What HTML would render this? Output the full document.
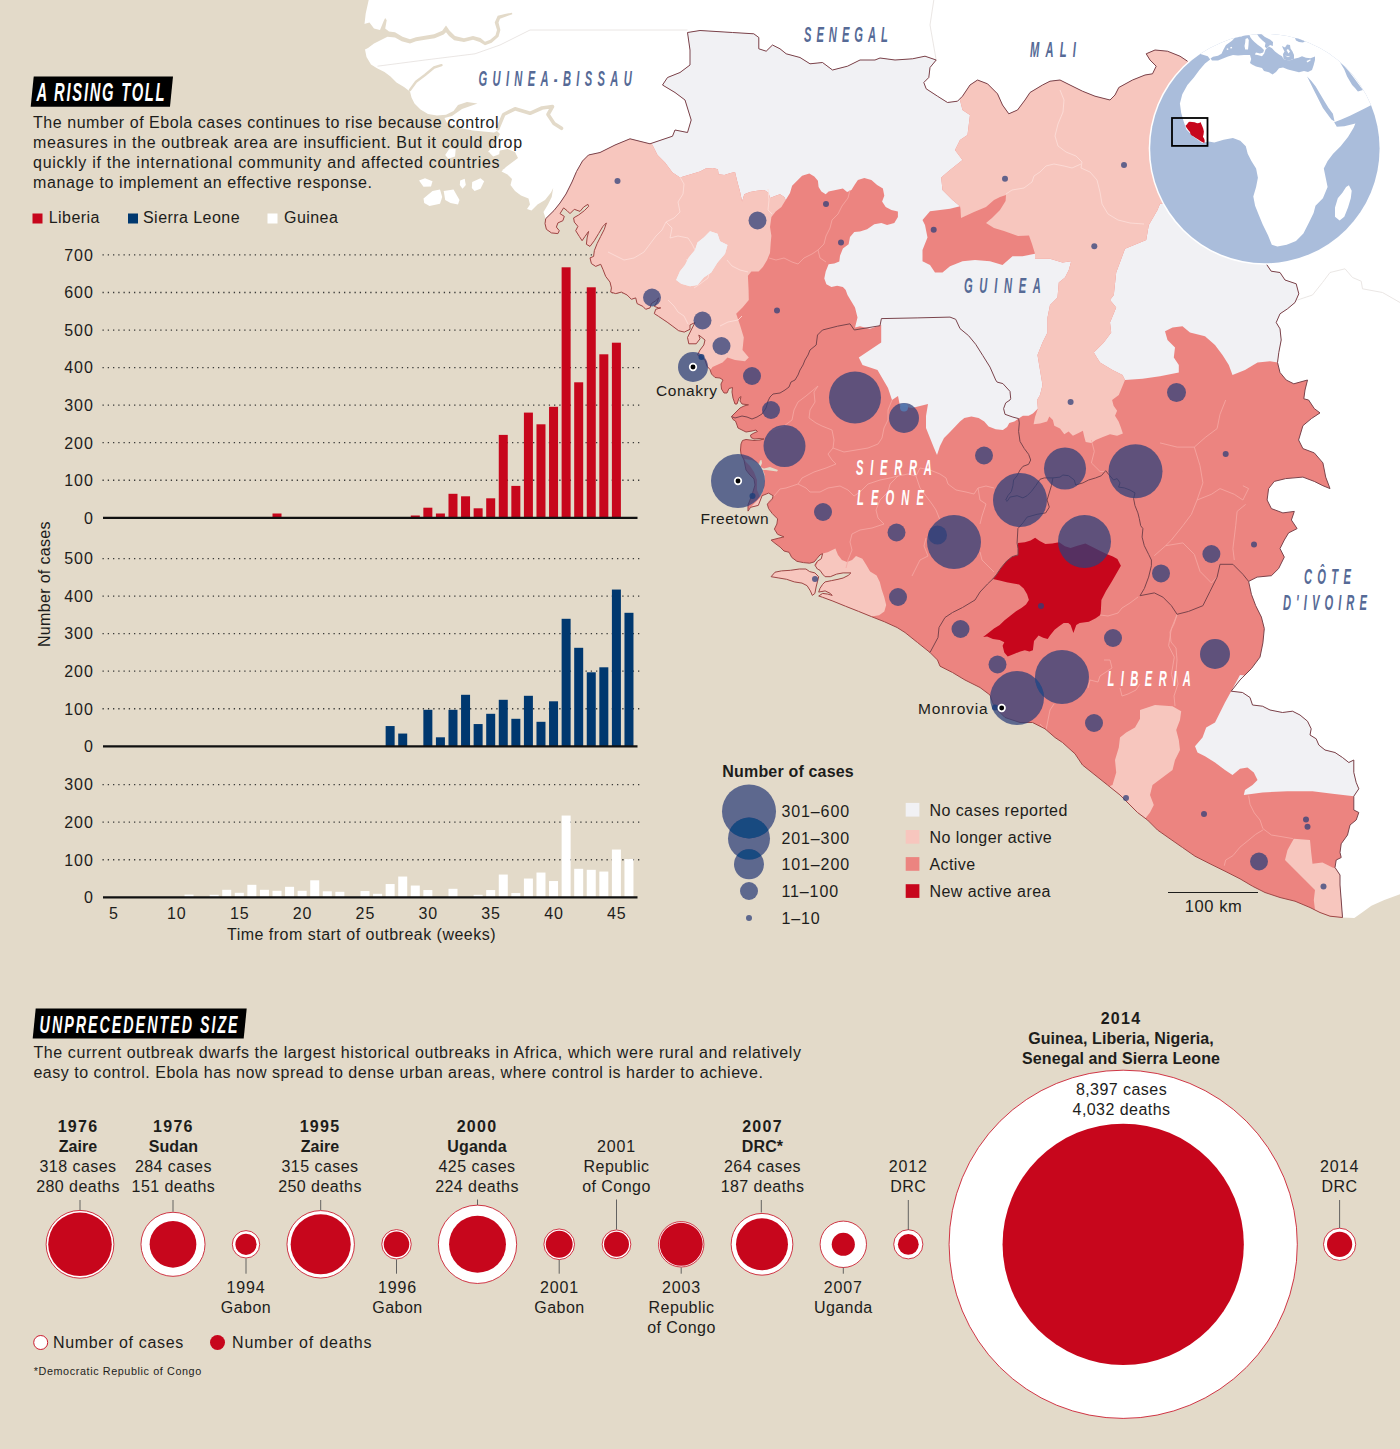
<!DOCTYPE html><html><head><meta charset="utf-8"><title>Ebola</title><style>
html,body{margin:0;padding:0;background:#e3dac9}
svg{display:block}
text{font-family:"Liberation Sans",sans-serif;fill:#1d1d1b}
.b{font-weight:bold}.m{text-anchor:middle}.e{text-anchor:end}
.t{font-size:16px;letter-spacing:.45px}
.n{font-size:16px;letter-spacing:.9px}
.cl{font-family:"Liberation Sans",sans-serif;font-style:italic;font-weight:bold;font-size:22px;fill:#566a96}
.wl{font-family:"Liberation Sans",sans-serif;font-style:italic;font-weight:bold;font-size:22px;fill:#fff}
</style></head><body>
<svg width="1400" height="1449" viewBox="0 0 1400 1449">
<rect width="1400" height="1449" fill="#e3dac9"/>
<text class="n e" x="93.7" y="523.6">0</text>
<path d="M102.5,480.25H640" stroke="#3a3a38" stroke-width="1.3" stroke-dasharray="1.3 3.95" fill="none"/>
<text class="n e" x="93.7" y="486.05">100</text>
<path d="M102.5,442.7H640" stroke="#3a3a38" stroke-width="1.3" stroke-dasharray="1.3 3.95" fill="none"/>
<text class="n e" x="93.7" y="448.5">200</text>
<path d="M102.5,405.15H640" stroke="#3a3a38" stroke-width="1.3" stroke-dasharray="1.3 3.95" fill="none"/>
<text class="n e" x="93.7" y="410.95">300</text>
<path d="M102.5,367.6H640" stroke="#3a3a38" stroke-width="1.3" stroke-dasharray="1.3 3.95" fill="none"/>
<text class="n e" x="93.7" y="373.4">400</text>
<path d="M102.5,330.05H640" stroke="#3a3a38" stroke-width="1.3" stroke-dasharray="1.3 3.95" fill="none"/>
<text class="n e" x="93.7" y="335.85">500</text>
<path d="M102.5,292.5H640" stroke="#3a3a38" stroke-width="1.3" stroke-dasharray="1.3 3.95" fill="none"/>
<text class="n e" x="93.7" y="298.3">600</text>
<path d="M102.5,254.95H640" stroke="#3a3a38" stroke-width="1.3" stroke-dasharray="1.3 3.95" fill="none"/>
<text class="n e" x="93.7" y="260.75">700</text>
<rect x="272.51" y="513.5" width="9" height="4.3" fill="#c7061c"/>
<rect x="410.78" y="515.5" width="9" height="2.3" fill="#c7061c"/>
<rect x="423.35" y="507.7" width="9" height="10.1" fill="#c7061c"/>
<rect x="435.92" y="513.5" width="9" height="4.3" fill="#c7061c"/>
<rect x="448.49" y="493.8" width="9" height="24" fill="#c7061c"/>
<rect x="461.06" y="496.3" width="9" height="21.5" fill="#c7061c"/>
<rect x="473.63" y="508.3" width="9" height="9.5" fill="#c7061c"/>
<rect x="486.2" y="498.3" width="9" height="19.5" fill="#c7061c"/>
<rect x="498.77" y="434.9" width="9" height="82.9" fill="#c7061c"/>
<rect x="511.34" y="485.9" width="9" height="31.9" fill="#c7061c"/>
<rect x="523.91" y="412.6" width="9" height="105.2" fill="#c7061c"/>
<rect x="536.48" y="424.3" width="9" height="93.5" fill="#c7061c"/>
<rect x="549.05" y="406.8" width="9" height="111" fill="#c7061c"/>
<rect x="561.62" y="267.3" width="9" height="250.5" fill="#c7061c"/>
<rect x="574.19" y="382.3" width="9" height="135.5" fill="#c7061c"/>
<rect x="586.76" y="287.3" width="9" height="230.5" fill="#c7061c"/>
<rect x="599.33" y="354.3" width="9" height="163.5" fill="#c7061c"/>
<rect x="611.9" y="342.7" width="9" height="175.1" fill="#c7061c"/>
<path d="M103,517.8H637.5" stroke="#111" stroke-width="2.2"/>
<text class="n e" x="93.7" y="752.1">0</text>
<path d="M102.5,708.75H640" stroke="#3a3a38" stroke-width="1.3" stroke-dasharray="1.3 3.95" fill="none"/>
<text class="n e" x="93.7" y="714.55">100</text>
<path d="M102.5,671.2H640" stroke="#3a3a38" stroke-width="1.3" stroke-dasharray="1.3 3.95" fill="none"/>
<text class="n e" x="93.7" y="677">200</text>
<path d="M102.5,633.65H640" stroke="#3a3a38" stroke-width="1.3" stroke-dasharray="1.3 3.95" fill="none"/>
<text class="n e" x="93.7" y="639.45">300</text>
<path d="M102.5,596.1H640" stroke="#3a3a38" stroke-width="1.3" stroke-dasharray="1.3 3.95" fill="none"/>
<text class="n e" x="93.7" y="601.9">400</text>
<path d="M102.5,558.55H640" stroke="#3a3a38" stroke-width="1.3" stroke-dasharray="1.3 3.95" fill="none"/>
<text class="n e" x="93.7" y="564.35">500</text>
<rect x="385.64" y="726.05" width="9" height="20.25" fill="#00386f"/>
<rect x="398.21" y="733.55" width="9" height="12.75" fill="#00386f"/>
<rect x="423.35" y="709.8" width="9" height="36.5" fill="#00386f"/>
<rect x="435.92" y="737.3" width="9" height="9" fill="#00386f"/>
<rect x="448.49" y="709.8" width="9" height="36.5" fill="#00386f"/>
<rect x="461.06" y="694.8" width="9" height="51.5" fill="#00386f"/>
<rect x="473.63" y="724.05" width="9" height="22.25" fill="#00386f"/>
<rect x="486.2" y="713.8" width="9" height="32.5" fill="#00386f"/>
<rect x="498.77" y="699.8" width="9" height="46.5" fill="#00386f"/>
<rect x="511.34" y="718.8" width="9" height="27.5" fill="#00386f"/>
<rect x="523.91" y="695.8" width="9" height="50.5" fill="#00386f"/>
<rect x="536.48" y="721.8" width="9" height="24.5" fill="#00386f"/>
<rect x="549.05" y="701.3" width="9" height="45" fill="#00386f"/>
<rect x="561.62" y="618.8" width="9" height="127.5" fill="#00386f"/>
<rect x="574.19" y="647.8" width="9" height="98.5" fill="#00386f"/>
<rect x="586.76" y="672.3" width="9" height="74" fill="#00386f"/>
<rect x="599.33" y="667.3" width="9" height="79" fill="#00386f"/>
<rect x="611.9" y="589.55" width="9" height="156.75" fill="#00386f"/>
<rect x="624.47" y="612.8" width="9" height="133.5" fill="#00386f"/>
<path d="M103,746.3H637.5" stroke="#111" stroke-width="2.2"/>
<text class="n e" x="93.7" y="903.1">0</text>
<path d="M102.5,859.75H640" stroke="#3a3a38" stroke-width="1.3" stroke-dasharray="1.3 3.95" fill="none"/>
<text class="n e" x="93.7" y="865.55">100</text>
<path d="M102.5,822.2H640" stroke="#3a3a38" stroke-width="1.3" stroke-dasharray="1.3 3.95" fill="none"/>
<text class="n e" x="93.7" y="828">200</text>
<path d="M102.5,784.65H640" stroke="#3a3a38" stroke-width="1.3" stroke-dasharray="1.3 3.95" fill="none"/>
<text class="n e" x="93.7" y="790.45">300</text>
<rect x="184.52" y="894.6" width="9" height="2.7" fill="#fff"/>
<rect x="209.66" y="894.8" width="9" height="2.5" fill="#fff"/>
<rect x="222.23" y="889.8" width="9" height="7.5" fill="#fff"/>
<rect x="234.8" y="892.8" width="9" height="4.5" fill="#fff"/>
<rect x="247.37" y="884.8" width="9" height="12.5" fill="#fff"/>
<rect x="259.94" y="889.8" width="9" height="7.5" fill="#fff"/>
<rect x="272.51" y="890.8" width="9" height="6.5" fill="#fff"/>
<rect x="285.08" y="886.8" width="9" height="10.5" fill="#fff"/>
<rect x="297.65" y="890.8" width="9" height="6.5" fill="#fff"/>
<rect x="310.22" y="880.3" width="9" height="17" fill="#fff"/>
<rect x="322.79" y="891.3" width="9" height="6" fill="#fff"/>
<rect x="335.36" y="891.8" width="9" height="5.5" fill="#fff"/>
<rect x="360.5" y="891.05" width="9" height="6.25" fill="#fff"/>
<rect x="373.07" y="893.8" width="9" height="3.5" fill="#fff"/>
<rect x="385.64" y="884.05" width="9" height="13.25" fill="#fff"/>
<rect x="398.21" y="876.55" width="9" height="20.75" fill="#fff"/>
<rect x="410.78" y="885.55" width="9" height="11.75" fill="#fff"/>
<rect x="423.35" y="890.05" width="9" height="7.25" fill="#fff"/>
<rect x="448.49" y="888.8" width="9" height="8.5" fill="#fff"/>
<rect x="473.63" y="894.8" width="9" height="2.5" fill="#fff"/>
<rect x="486.2" y="890.05" width="9" height="7.25" fill="#fff"/>
<rect x="498.77" y="874.55" width="9" height="22.75" fill="#fff"/>
<rect x="511.34" y="893.05" width="9" height="4.25" fill="#fff"/>
<rect x="523.91" y="878.55" width="9" height="18.75" fill="#fff"/>
<rect x="536.48" y="872.55" width="9" height="24.75" fill="#fff"/>
<rect x="549.05" y="881.05" width="9" height="16.25" fill="#fff"/>
<rect x="561.62" y="815.55" width="9" height="81.75" fill="#fff"/>
<rect x="574.19" y="868.8" width="9" height="28.5" fill="#fff"/>
<rect x="586.76" y="869.8" width="9" height="27.5" fill="#fff"/>
<rect x="599.33" y="871.55" width="9" height="25.75" fill="#fff"/>
<rect x="611.9" y="849.55" width="9" height="47.75" fill="#fff"/>
<rect x="624.47" y="859.05" width="9" height="38.25" fill="#fff"/>
<path d="M103,897.3H637.5" stroke="#111" stroke-width="2.2"/>
<text class="n m" x="114" y="918.8">5</text>
<text class="n m" x="176.85" y="918.8">10</text>
<text class="n m" x="239.7" y="918.8">15</text>
<text class="n m" x="302.55" y="918.8">20</text>
<text class="n m" x="365.4" y="918.8">25</text>
<text class="n m" x="428.25" y="918.8">30</text>
<text class="n m" x="491.1" y="918.8">35</text>
<text class="n m" x="553.95" y="918.8">40</text>
<text class="n m" x="616.8" y="918.8">45</text>
<text class="t" x="227" y="940" textLength="269">Time from start of outbreak (weeks)</text>
<text class="t" transform="translate(49.6,647) rotate(-90)" textLength="126">Number of cases</text>
<defs><clipPath id="cu"><path d="M545.7,218.7 L554,210.5 L560,203 L566,194 L572,182 L576.5,171.5 L582.5,161 L588.5,155 L600,152.5 L615,145 L630,138.8 L650,143.8 L672.5,136.2 L675,130 L687.5,132.5 L691.2,120 L685,100 L675,92.5 L662.5,85 L667.5,77.5 L680,72.5 L690,65 L690,50 L687.5,32.5 L700,30.5 L732.5,32.5 L753.8,33.8 L758.8,37.5 L758.8,48.8 L766.2,51.2 L772.5,45 L780,48.8 L786.2,53.8 L800,57.5 L810,63.8 L822.5,62.5 L832.5,70 L847.5,66.2 L860,60 L875,60 L880,58 L895,60 L912.5,58.8 L925,56.2 L936.2,60 L930,67.5 L928.8,77.5 L923.8,82.5 L926.2,88.8 L937.5,96.2 L947.5,102.5 L957.5,101.2 L962.5,96.2 L970,85 L977.5,80 L987.5,83.8 L997.5,93.8 L1002.5,105 L1008.8,113.8 L1017.5,110 L1025,100 L1030,92.5 L1042.5,85 L1050,81.2 L1060,80 L1070,85 L1082.5,91.2 L1095,96.2 L1110,100 L1115,95 L1118.8,87.5 L1132.5,80 L1145,75 L1152.5,73.8 L1156.2,66.2 L1150,60 L1146.2,53.8 L1155,50 L1167.5,51.2 L1180,56.2 L1187.5,61.2 L1215,90 L1250,180 L1262,240 L1266.2,263.8 L1271.2,271.2 L1280,272.5 L1285,280 L1296.2,283.8 L1298.8,293.8 L1295,302.5 L1287.5,308.8 L1280,313.8 L1276.2,322.5 L1280,328.8 L1281.2,340 L1278.8,352.5 L1277.5,362.5 L1280,372.5 L1286.2,380 L1293.8,383.8 L1307.5,380 L1305,390 L1303.8,398.8 L1308.6,400 L1314.3,408.6 L1320,412.9 L1311.4,418.6 L1302.9,425.7 L1298.6,440 L1302.9,448.6 L1314.3,452.9 L1322.9,462.9 L1325.7,477.1 L1330,488.6 L1322.9,485.7 L1314.3,481.4 L1302.9,477.1 L1285.7,478.6 L1274.3,481.4 L1268.6,488.6 L1267.1,500 L1271.4,508.6 L1282.9,512.9 L1294.3,511.4 L1291.4,520 L1297.1,528.6 L1288.6,532.9 L1284.3,540 L1280,548.6 L1284.3,557.1 L1278.6,568.6 L1271.4,575.7 L1257.1,577.1 L1248.6,581.4 L1251.4,594.3 L1255.7,605.7 L1261.4,617.1 L1264.3,628.6 L1262.9,642.9 L1260,657.1 L1251.4,668.6 L1242.9,677.1 L1240,680 L1231.2,691.2 L1242.5,692.5 L1250,697.5 L1252.5,705 L1262.5,706.2 L1270,710 L1282.5,712.5 L1292.5,711.2 L1300,715 L1307.5,721.2 L1311.2,728.8 L1310,735 L1316.2,738.8 L1318.8,745 L1325,750 L1335,752.5 L1342.5,757.5 L1348.8,762.5 L1353.8,760 L1353.8,772.5 L1356.2,782.5 L1358.8,788.8 L1353.8,796.2 L1353.8,810 L1358.8,812.5 L1356.2,820 L1350,825 L1347.5,835 L1341.2,843.8 L1340,852.5 L1341.2,857.5 L1336.2,860 L1335,867.5 L1340,875 L1340,885 L1341.2,900 L1342.5,917.5 L1330,916.2 L1320,912.5 L1310,907.5 L1295,901.2 L1280,897.5 L1265,892.5 L1252.5,886.2 L1240,878.8 L1225,871.2 L1210,863.8 L1195,856.2 L1182.5,847.5 L1170,838.8 L1157.5,830 L1147.5,820 L1137.5,812.5 L1130,805 L1120,795 L1107.5,785 L1095,775 L1082.5,765 L1075,753.8 L1062.5,742.5 L1055,737.5 L1045,728.8 L1032.5,722.5 L1020,722.5 L1005,717.5 L997.5,710 L992.5,702.5 L990,695 L980,687.5 L965,680 L952.5,672.5 L940,666.2 L937.5,660 L930,652.5 L917.5,642.5 L905,632.5 L897.1,627.5 L884.3,621.7 L871.4,616.6 L858.6,611.4 L845.7,606.3 L832.9,601.1 L822.6,597.3 L818.7,596 L822.6,593.4 L827.7,594.1 L832.2,595.4 L830.3,593.4 L825.1,590.9 L818.7,592.1 L820,588.3 L822.6,584.4 L825.1,581.9 L831.6,580.6 L838,579.3 L843.1,578 L848.3,575.4 L850.9,572.9 L843.1,572.9 L836.7,574.1 L830.3,576.7 L825.1,576.7 L822.6,574.1 L820,570.3 L817.4,569 L814.9,565.1 L817.4,561.3 L821.3,558.7 L822.6,553.6 L820,554.9 L816.8,558.7 L814.2,561.9 L809.7,563.2 L803.3,562.6 L796.9,561.3 L791.7,557.4 L789.1,552.3 L784,551 L780.1,547.1 L775,543.3 L771.1,540.1 L778.9,538.1 L784,536.9 L777.6,534.3 L774.4,529.1 L776.9,524 L777.6,518.9 L772.4,513.7 L768.6,508.6 L767.3,504.1 L772.4,498.9 L773.1,495.7 L768.6,493.1 L762.1,495.7 L758.3,505.4 L750.6,507.3 L748,511.1 L748,505 L752,495 L755,485 L754,479 L750,475 L746,470 L744,460 L741,454 L740.5,450 L741,444 L742.5,440.5 L746,439.5 L754,440.5 L760,440 L764,439 L759,438.5 L754,439 L751,437.5 L750.5,435 L754,433 L757.5,431.5 L756,430 L752,431 L746,432 L742,430 L738,428 L737,425 L735.5,421 L733,419.5 L731.5,416.5 L734,414 L737,411 L740,408 L744,406 L748.5,404.8 L742,404 L740,401 L741,396.5 L739,398 L737,404 L735,404 L733,398 L732,392 L732.5,387.5 L729,388.5 L727,393 L724,393 L721.5,389 L721,384 L723,380 L720,378 L715,377.5 L711.5,374 L710,369.5 L707,366.2 L705,360 L697.5,355 L700,350 L703.8,345 L705,340 L698.8,335 L700,338.8 L696.2,343.8 L688.8,343.8 L687.5,337.5 L691.2,330 L695,322.5 L690,325 L690,329.3 L684.3,332.1 L678.6,330.7 L672.9,326.4 L667.1,322.1 L662.9,319.3 L658.6,316.4 L654.3,313.6 L655.7,309.3 L660.7,307.9 L658.6,307.9 L654.3,306.4 L657.1,302.1 L658.6,297.9 L655.7,300.7 L651.4,303.6 L650,307.9 L645.7,309.3 L642.9,306.4 L637.1,303.6 L635.7,297.9 L631.4,299.3 L627.1,295 L621.4,292.1 L615.7,293.6 L610.7,292.1 L611.4,287.9 L610,282.1 L605.7,276.4 L602.9,269.3 L600.7,264.3 L595.7,266.4 L591.4,263.6 L590,257.9 L593.6,256.4 L594.3,250.7 L597.1,243.6 L600.7,236.4 L604.3,229.3 L606.4,222.9 L602.9,226.4 L598.6,233.6 L594.3,240.7 L590,246.4 L586.4,244.3 L587.1,237.9 L588.6,231.4 L585,236.4 L582.1,240.7 L579.3,236.4 L575.7,230.7 L577.9,226.4 L574.3,222.1 L573.6,217.9 L578.6,215 L584.3,210.7 L588.6,206.4 L587.9,204.3 L583.6,207.1 L580,211.4 L574.3,209.3 L570,213.6 L567.1,210.7 L563.6,207.9 L560,213.6 L564.3,216.4 L562.9,220.7 L557.9,222.9 L556.4,227.1 L559.3,230.7 L557.9,233.6 L551.4,232.9 L546.4,229.3 L545,223.6Z"/></clipPath><clipPath id="cg"><circle cx="1264.9" cy="148.6" r="114.7"/></clipPath></defs>
<path d="M368.7,0 L365.7,13.5 L364.5,24 L365,49.5 L366.5,57 L371,64.5 L377,68.2 L384.5,72 L390.5,76.5 L396.5,82.5 L404,87 L410,91.5 L411.5,97.5 L414.5,103.5 L420.5,109.5 L428,114 L437,115.5 L446,114.7 L453.5,111 L458,105 L467,102 L477.5,103.5 L462,109 L452,116 L444.5,118 L447,123 L455,127 L473,130.5 L494,132.5 L497,131 L500,134 L494,144.5 L488,152 L494,153.5 L500,150.5 L507.5,149 L515,152 L518,158 L512,162.5 L506,167 L501.5,171.5 L507.5,174.5 L512,179 L510.5,185 L515,191 L521,195.5 L528.5,198.5 L530,204.5 L527,209 L531.5,210.5 L537.5,204.5 L545,200 L551,192.5 L553.2,188 L551.7,197 L548,204.5 L543.5,212 L545.7,218.7 L545,223.6 L546.4,229.3 L551.4,232.9 L557.9,233.6 L559.3,230.7 L556.4,227.1 L557.9,222.9 L562.9,220.7 L564.3,216.4 L560,213.6 L563.6,207.9 L567.1,210.7 L570,213.6 L574.3,209.3 L580,211.4 L583.6,207.1 L587.9,204.3 L588.6,206.4 L584.3,210.7 L578.6,215 L573.6,217.9 L574.3,222.1 L577.9,226.4 L575.7,230.7 L579.3,236.4 L582.1,240.7 L585,236.4 L588.6,231.4 L587.1,237.9 L586.4,244.3 L590,246.4 L594.3,240.7 L598.6,233.6 L602.9,226.4 L606.4,222.9 L604.3,229.3 L600.7,236.4 L597.1,243.6 L594.3,250.7 L593.6,256.4 L590,257.9 L591.4,263.6 L595.7,266.4 L600.7,264.3 L602.9,269.3 L605.7,276.4 L610,282.1 L611.4,287.9 L610.7,292.1 L615.7,293.6 L621.4,292.1 L627.1,295 L631.4,299.3 L635.7,297.9 L637.1,303.6 L642.9,306.4 L645.7,309.3 L650,307.9 L651.4,303.6 L655.7,300.7 L658.6,297.9 L657.1,302.1 L654.3,306.4 L658.6,307.9 L660.7,307.9 L655.7,309.3 L654.3,313.6 L658.6,316.4 L662.9,319.3 L667.1,322.1 L672.9,326.4 L678.6,330.7 L684.3,332.1 L690,329.3 L690,325 L695,322.5 L691.2,330 L687.5,337.5 L688.8,343.8 L696.2,343.8 L700,338.8 L698.8,335 L705,340 L703.8,345 L700,350 L697.5,355 L705,360 L707,366.2 L710,369.5 L711.5,374 L715,377.5 L720,378 L723,380 L721,384 L721.5,389 L724,393 L727,393 L729,388.5 L732.5,387.5 L732,392 L733,398 L735,404 L737,404 L739,398 L741,396.5 L740,401 L742,404 L748.5,404.8 L744,406 L740,408 L737,411 L734,414 L731.5,416.5 L733,419.5 L735.5,421 L737,425 L738,428 L742,430 L746,432 L752,431 L756,430 L757.5,431.5 L754,433 L750.5,435 L751,437.5 L754,439 L759,438.5 L764,439 L760,440 L754,440.5 L746,439.5 L742.5,440.5 L741,444 L740.5,450 L741,454 L744,460 L746,470 L750,475 L754,479 L755,485 L752,495 L748,505 L748,511.1 L750.6,507.3 L758.3,505.4 L762.1,495.7 L768.6,493.1 L773.1,495.7 L772.4,498.9 L767.3,504.1 L768.6,508.6 L772.4,513.7 L777.6,518.9 L776.9,524 L774.4,529.1 L777.6,534.3 L784,536.9 L778.9,538.1 L771.1,540.1 L775,543.3 L780.1,547.1 L784,551 L789.1,552.3 L791.7,557.4 L796.9,561.3 L803.3,562.6 L809.7,563.2 L814.2,561.9 L816.8,558.7 L820,554.9 L822.6,553.6 L821.3,558.7 L817.4,561.3 L814.9,565.1 L817.4,569 L820,570.3 L822.6,574.1 L825.1,576.7 L830.3,576.7 L836.7,574.1 L843.1,572.9 L850.9,572.9 L848.3,575.4 L843.1,578 L838,579.3 L831.6,580.6 L825.1,581.9 L822.6,584.4 L820,588.3 L818.7,592.1 L825.1,590.9 L830.3,593.4 L832.2,595.4 L827.7,594.1 L822.6,593.4 L818.7,596 L822.6,597.3 L832.9,601.1 L845.7,606.3 L858.6,611.4 L871.4,616.6 L884.3,621.7 L897.1,627.5 L905,632.5 L917.5,642.5 L930,652.5 L937.5,660 L940,666.2 L952.5,672.5 L965,680 L980,687.5 L990,695 L992.5,702.5 L997.5,710 L1005,717.5 L1020,722.5 L1032.5,722.5 L1045,728.8 L1055,737.5 L1062.5,742.5 L1075,753.8 L1082.5,765 L1095,775 L1107.5,785 L1120,795 L1130,805 L1137.5,812.5 L1147.5,820 L1157.5,830 L1170,838.8 L1182.5,847.5 L1195,856.2 L1210,863.8 L1225,871.2 L1240,878.8 L1252.5,886.2 L1265,892.5 L1280,897.5 L1295,901.2 L1310,907.5 L1320,912.5 L1330,916.2 L1342.5,917.5 L1354.3,917.9 L1361.4,912.9 L1371.4,905.7 L1384.3,900 L1400,894.3 L1400,0Z" fill="#fff"/>
<path d="M419,180.5 L425,178.2 L432.5,181.2 L431,186.5 L423.5,186.8Z" fill="#fff"/>
<path d="M460.2,180.5 L464.7,178.7 L465.8,185 L462.5,188.7 L459.8,185Z" fill="#fff"/>
<path d="M472.2,182 L480.5,178.2 L484.2,181.2 L480.5,188.7 L474.5,191 L471.8,188Z" fill="#fff"/>
<path d="M423.5,198.5 L432.5,191 L440,189.5 L442.2,197 L440,203.7 L429.5,206 L424.2,203Z" fill="#fff"/>
<path d="M443.7,191 L453.5,189.5 L459.5,200 L458,204.5 L450.5,203 L445.2,200Z" fill="#fff"/>
<path d="M489.5,152.7 L495.5,147.5 L500,148.2 L499.2,154.2 L493.2,156.5Z" fill="#fff"/>
<path d="M445.2,155 L449.7,148.2 L455.7,149 L455,156.5 L448.2,158.7Z" fill="#fff"/>
<path d="M525.5,132.5 L530,130.2 L536,132.5 L540.5,137.7 L545,140 L549.5,144.5 L545,147.5 L540.5,145.2 L534.5,146.7 L530,143 L525.5,140Z" fill="#fff"/>
<path d="M502.2,170 L512,165.5 L517.2,167 L515,170.7 L507.5,173Z" fill="#fff"/>
<path d="M364.2,24 L369.5,22.5 L374,28.5 L380,30 L383.7,21 L385.2,18 L386.7,20.2 L385.2,28.5 L389,31.5 L395,32.2 L402.5,36.7 L410,39.3 L416,37.2 L425,35.7 L434,34.2 L442.2,30.7 L446,25.5 L449.7,30.7 L455,36 L464,38.2 L473,36 L480.5,37.9 L485,41.7 L490.2,39.7 L495.5,35.2 L497,30 L494.7,22.5 L497.7,15.7 L506,13.8 L512,12.7 L512.3,14.2 L506.7,16.2 L500,18.7 L498.5,22.5 L500.4,30 L498.5,36.7 L491.7,42.7 L485,45.3 L479.7,42 L473,39.7 L464,42 L454.2,40.2 L449,36 L446,32.2 L443.7,34.5 L434.7,38.2 L425,39.7 L416,41.2 L410,43.5 L401.7,41.2 L395,37.5 L387.5,36.7 L380,40.5 L374,43.5 L368,48 L365,49.5 L359,49.5 L359,24Z" fill="#e3dac9"/>
<path d="M410,90 L416,81.7 L425,75 L434,67.5 L441.5,65.2" fill="none" stroke="#e3dac9" stroke-width="2.4" stroke-linejoin="round" stroke-linecap="round"/>
<path d="M497.7,128.7 L503.7,114.5 L515,108.8 L530,113.3 L542,108 L552.5,106.5 L548,114.5 L554,123.5 L561.5,128.3" fill="none" stroke="#e3dac9" stroke-width="3.6" stroke-linejoin="round" stroke-linecap="round"/>
<path d="M377.5,66.2 L425,60 L475,53.8 L500,45 L530,30 L687.5,30" fill="none" stroke="#e4dfdd" stroke-width=".8"/>
<path d="M933.8,0 L930,25 L936.2,60" fill="none" stroke="#e4dfdd" stroke-width=".8"/>
<path d="M1297.5,300 L1312.5,295 L1322.5,282.5 L1330,272.5 L1345,268.8 L1352.5,277.5 L1361.2,281.2 L1362.5,288.8 L1382.5,292.5 L1400,302.5" fill="none" stroke="#e4dfdd" stroke-width=".8"/>
<path d="M545.7,218.7 L554,210.5 L560,203 L566,194 L572,182 L576.5,171.5 L582.5,161 L588.5,155 L600,152.5 L615,145 L630,138.8 L650,143.8 L672.5,136.2 L675,130 L687.5,132.5 L691.2,120 L685,100 L675,92.5 L662.5,85 L667.5,77.5 L680,72.5 L690,65 L690,50 L687.5,32.5 L700,30.5 L732.5,32.5 L753.8,33.8 L758.8,37.5 L758.8,48.8 L766.2,51.2 L772.5,45 L780,48.8 L786.2,53.8 L800,57.5 L810,63.8 L822.5,62.5 L832.5,70 L847.5,66.2 L860,60 L875,60 L880,58 L895,60 L912.5,58.8 L925,56.2 L936.2,60 L930,67.5 L928.8,77.5 L923.8,82.5 L926.2,88.8 L937.5,96.2 L947.5,102.5 L957.5,101.2 L962.5,96.2 L970,85 L977.5,80 L987.5,83.8 L997.5,93.8 L1002.5,105 L1008.8,113.8 L1017.5,110 L1025,100 L1030,92.5 L1042.5,85 L1050,81.2 L1060,80 L1070,85 L1082.5,91.2 L1095,96.2 L1110,100 L1115,95 L1118.8,87.5 L1132.5,80 L1145,75 L1152.5,73.8 L1156.2,66.2 L1150,60 L1146.2,53.8 L1155,50 L1167.5,51.2 L1180,56.2 L1187.5,61.2 L1215,90 L1250,180 L1262,240 L1266.2,263.8 L1271.2,271.2 L1280,272.5 L1285,280 L1296.2,283.8 L1298.8,293.8 L1295,302.5 L1287.5,308.8 L1280,313.8 L1276.2,322.5 L1280,328.8 L1281.2,340 L1278.8,352.5 L1277.5,362.5 L1280,372.5 L1286.2,380 L1293.8,383.8 L1307.5,380 L1305,390 L1303.8,398.8 L1308.6,400 L1314.3,408.6 L1320,412.9 L1311.4,418.6 L1302.9,425.7 L1298.6,440 L1302.9,448.6 L1314.3,452.9 L1322.9,462.9 L1325.7,477.1 L1330,488.6 L1322.9,485.7 L1314.3,481.4 L1302.9,477.1 L1285.7,478.6 L1274.3,481.4 L1268.6,488.6 L1267.1,500 L1271.4,508.6 L1282.9,512.9 L1294.3,511.4 L1291.4,520 L1297.1,528.6 L1288.6,532.9 L1284.3,540 L1280,548.6 L1284.3,557.1 L1278.6,568.6 L1271.4,575.7 L1257.1,577.1 L1248.6,581.4 L1251.4,594.3 L1255.7,605.7 L1261.4,617.1 L1264.3,628.6 L1262.9,642.9 L1260,657.1 L1251.4,668.6 L1242.9,677.1 L1240,680 L1231.2,691.2 L1242.5,692.5 L1250,697.5 L1252.5,705 L1262.5,706.2 L1270,710 L1282.5,712.5 L1292.5,711.2 L1300,715 L1307.5,721.2 L1311.2,728.8 L1310,735 L1316.2,738.8 L1318.8,745 L1325,750 L1335,752.5 L1342.5,757.5 L1348.8,762.5 L1353.8,760 L1353.8,772.5 L1356.2,782.5 L1358.8,788.8 L1353.8,796.2 L1353.8,810 L1358.8,812.5 L1356.2,820 L1350,825 L1347.5,835 L1341.2,843.8 L1340,852.5 L1341.2,857.5 L1336.2,860 L1335,867.5 L1340,875 L1340,885 L1341.2,900 L1342.5,917.5 L1330,916.2 L1320,912.5 L1310,907.5 L1295,901.2 L1280,897.5 L1265,892.5 L1252.5,886.2 L1240,878.8 L1225,871.2 L1210,863.8 L1195,856.2 L1182.5,847.5 L1170,838.8 L1157.5,830 L1147.5,820 L1137.5,812.5 L1130,805 L1120,795 L1107.5,785 L1095,775 L1082.5,765 L1075,753.8 L1062.5,742.5 L1055,737.5 L1045,728.8 L1032.5,722.5 L1020,722.5 L1005,717.5 L997.5,710 L992.5,702.5 L990,695 L980,687.5 L965,680 L952.5,672.5 L940,666.2 L937.5,660 L930,652.5 L917.5,642.5 L905,632.5 L897.1,627.5 L884.3,621.7 L871.4,616.6 L858.6,611.4 L845.7,606.3 L832.9,601.1 L822.6,597.3 L818.7,596 L822.6,593.4 L827.7,594.1 L832.2,595.4 L830.3,593.4 L825.1,590.9 L818.7,592.1 L820,588.3 L822.6,584.4 L825.1,581.9 L831.6,580.6 L838,579.3 L843.1,578 L848.3,575.4 L850.9,572.9 L843.1,572.9 L836.7,574.1 L830.3,576.7 L825.1,576.7 L822.6,574.1 L820,570.3 L817.4,569 L814.9,565.1 L817.4,561.3 L821.3,558.7 L822.6,553.6 L820,554.9 L816.8,558.7 L814.2,561.9 L809.7,563.2 L803.3,562.6 L796.9,561.3 L791.7,557.4 L789.1,552.3 L784,551 L780.1,547.1 L775,543.3 L771.1,540.1 L778.9,538.1 L784,536.9 L777.6,534.3 L774.4,529.1 L776.9,524 L777.6,518.9 L772.4,513.7 L768.6,508.6 L767.3,504.1 L772.4,498.9 L773.1,495.7 L768.6,493.1 L762.1,495.7 L758.3,505.4 L750.6,507.3 L748,511.1 L748,505 L752,495 L755,485 L754,479 L750,475 L746,470 L744,460 L741,454 L740.5,450 L741,444 L742.5,440.5 L746,439.5 L754,440.5 L760,440 L764,439 L759,438.5 L754,439 L751,437.5 L750.5,435 L754,433 L757.5,431.5 L756,430 L752,431 L746,432 L742,430 L738,428 L737,425 L735.5,421 L733,419.5 L731.5,416.5 L734,414 L737,411 L740,408 L744,406 L748.5,404.8 L742,404 L740,401 L741,396.5 L739,398 L737,404 L735,404 L733,398 L732,392 L732.5,387.5 L729,388.5 L727,393 L724,393 L721.5,389 L721,384 L723,380 L720,378 L715,377.5 L711.5,374 L710,369.5 L707,366.2 L705,360 L697.5,355 L700,350 L703.8,345 L705,340 L698.8,335 L700,338.8 L696.2,343.8 L688.8,343.8 L687.5,337.5 L691.2,330 L695,322.5 L690,325 L690,329.3 L684.3,332.1 L678.6,330.7 L672.9,326.4 L667.1,322.1 L662.9,319.3 L658.6,316.4 L654.3,313.6 L655.7,309.3 L660.7,307.9 L658.6,307.9 L654.3,306.4 L657.1,302.1 L658.6,297.9 L655.7,300.7 L651.4,303.6 L650,307.9 L645.7,309.3 L642.9,306.4 L637.1,303.6 L635.7,297.9 L631.4,299.3 L627.1,295 L621.4,292.1 L615.7,293.6 L610.7,292.1 L611.4,287.9 L610,282.1 L605.7,276.4 L602.9,269.3 L600.7,264.3 L595.7,266.4 L591.4,263.6 L590,257.9 L593.6,256.4 L594.3,250.7 L597.1,243.6 L600.7,236.4 L604.3,229.3 L606.4,222.9 L602.9,226.4 L598.6,233.6 L594.3,240.7 L590,246.4 L586.4,244.3 L587.1,237.9 L588.6,231.4 L585,236.4 L582.1,240.7 L579.3,236.4 L575.7,230.7 L577.9,226.4 L574.3,222.1 L573.6,217.9 L578.6,215 L584.3,210.7 L588.6,206.4 L587.9,204.3 L583.6,207.1 L580,211.4 L574.3,209.3 L570,213.6 L567.1,210.7 L563.6,207.9 L560,213.6 L564.3,216.4 L562.9,220.7 L557.9,222.9 L556.4,227.1 L559.3,230.7 L557.9,233.6 L551.4,232.9 L546.4,229.3 L545,223.6Z" fill="#ec8480"/>
<g clip-path="url(#cu)">
<path d="M652.5,145 L640,150 L640,15 L700,10 L958,40 L960,100 L962.5,110 L970,115 L967.5,135 L960,140 L955,150 L962.5,160 L950,170 L941.2,177.5 L942.5,190 L952.5,200 L960,206.2 L950,208.8 L930,211.2 L922.5,220 L925,225 L927.5,237.5 L922.5,250 L922.5,261.2 L930,265 L935,272.5 L942.5,272.5 L950,266.2 L962.5,261.2 L975,260 L990,261.2 L1002.5,265 L1012.5,256.2 L1022.5,256.2 L1035,253.8 L1035,258.8 L1050,258.8 L1062.5,262.5 L1071.2,261.2 L1068.8,270 L1065,277.5 L1058.8,282.5 L1057.5,297.5 L1050,305 L1047.5,317.5 L1047.5,332.5 L1042.5,342.5 L1037.5,355 L1040,370 L1042.5,385 L1040,395 L1037.1,400 L1037.9,408.6 L1032.9,413.6 L1028.6,415.7 L1022.9,415.7 L1018.6,418.6 L1014.3,421.4 L1009.3,422.9 L1007.1,427.1 L1002.9,430 L995.7,429.3 L988.6,426.4 L984.3,421.4 L978.6,417.9 L971.4,416.4 L964.3,417.9 L960,421.4 L950,432 L944,438 L940,446 L937,455 L934,448 L930,438 L926,428 L926,416 L928,404 L920,406 L912,408 L900,406 L898,396 L892,400 L888,388 L877.5,370 L862.5,365 L858.8,357.5 L870,350 L881.2,342.5 L881.2,325 L870,328.8 L860,326.2 L855,327.5 L857.5,317.5 L855,307.5 L847.5,295 L845.7,290 L842.9,287.1 L837.1,285.7 L831.4,287.1 L826.4,284.3 L824.3,278.6 L825.7,271.4 L828.6,264.3 L834.3,263.6 L839.3,261.4 L840,255.7 L842.9,248.6 L848.6,244.3 L850,237.1 L854.3,232.1 L860,231.4 L867.1,229.3 L874.3,224.3 L881.4,222.9 L887.1,225 L894.3,222.9 L897.9,217.1 L897.9,211.4 L891.4,210 L885.7,207.1 L882.1,201.4 L884.3,195.7 L882.9,188.6 L877.1,185 L871.4,180 L864.3,177.9 L857.9,180 L855,184.3 L851.4,190 L847.1,192.1 L842.9,188.6 L835.7,190 L828.6,191.4 L825.7,194.3 L821.4,191.4 L818.6,187.1 L817.9,180.7 L814.3,176.4 L809.3,173.6 L802.1,175.7 L797.1,180.7 L792.1,185.7 L790,192.9 L785.7,200 L784.3,197.1 L780,194.3 L775.7,195.7 L770,197.9 L768.6,192.9 L764.3,190 L757.1,190.7 L750,192.1 L744.3,194.3 L742.1,201.4 L740,191.4 L737.1,180.7 L735,172.1 L730.7,172.9 L724.3,175 L718.6,174.3 L717.9,169.3 L712.9,167.9 L705.7,168.6 L700,171.4 L680,177.5 L672.5,172.5 L665,162.5 L657.5,155 L652.5,145Z" fill="#f1f1f4"/>
<path d="M1125,380 L1122.5,375 L1112.5,370 L1100,362.5 L1093.8,352.5 L1103.8,342.5 L1111.2,332.5 L1110,322.5 L1116.2,307.5 L1110,300 L1113.8,295 L1116.2,272.5 L1125,248.8 L1146.2,240 L1148.8,225 L1157.5,210 L1160,203.8 L1225,198 L1310,215 L1330,300 L1300,365 L1278,362.5 L1270,361.2 L1257.5,362.5 L1245,370 L1232.5,375 L1228.8,365 L1222.5,355 L1215,345 L1205,336.2 L1190,332.5 L1182.5,326.2 L1172.5,327.5 L1165,331.2 L1167.5,340 L1175,347.5 L1173.8,357.5 L1178.8,365 L1178.8,372.5 L1160,376.2 L1142.5,378.8Z" fill="#f1f1f4"/>
<path d="M652.5,145 L657.5,155 L665,162.5 L672.5,172.5 L680,177.5 L700,171.4 L705.7,168.6 L712.9,167.9 L717.9,169.3 L718.6,174.3 L724.3,175 L730.7,172.9 L735,172.1 L737.1,180.7 L740,191.4 L742.1,201.4 L744.3,194.3 L750,192.1 L757.1,190.7 L764.3,190 L768.6,192.9 L770,197.9 L775.7,195.7 L780,194.3 L784.3,197.1 L785.7,200 L781.4,207.1 L775.7,211.4 L771.4,217.1 L770,227.1 L771.4,235.7 L770.7,242.9 L770,252.9 L767.1,260 L762.9,267.1 L758.6,271.4 L751.4,271.4 L747.9,275.7 L748.6,290 L748.8,300 L742.5,307.5 L736.2,313.8 L740,325 L743.8,337.5 L742.5,350 L748.8,357.5 L745,361.2 L735,360 L727.5,357.5 L722.5,362.5 L712.5,367 L700,385 L600,340 L530,240 L535,195 L570,120 L645,120Z" fill="#f7c6be"/>
<path d="M960,206.2 L952.5,200 L942.5,190 L941.2,177.5 L950,170 L962.5,160 L955,150 L960,140 L967.5,135 L970,115 L962.5,110 L960,100 L958,40 L1200,25 L1255,100 L1225,198 L1160,203.8 L1157.5,210 L1148.8,225 L1146.2,240 L1125,248.8 L1116.2,272.5 L1113.8,295 L1110,300 L1116.2,307.5 L1110,322.5 L1111.2,332.5 L1103.8,342.5 L1093.8,352.5 L1100,362.5 L1112.5,370 L1122.5,375 L1125,380 L1118.8,395 L1112.1,400 L1113.6,405.7 L1117.1,410.7 L1115,415.7 L1118.6,421.4 L1120.7,427.1 L1122.9,433.6 L1117.1,435.7 L1110,434.3 L1102.9,437.1 L1095.7,440 L1091.4,442.9 L1085.7,442.1 L1084.3,437.1 L1082.9,430.7 L1078.6,432.9 L1072.9,435.7 L1068.6,431.4 L1064.3,434.3 L1060,428.6 L1054.3,425.7 L1052.9,420 L1049.3,416.4 L1047.1,421.4 L1040,423.6 L1033.6,424.3 L1035,417.1 L1037.9,408.6 L1037.1,400 L1040,395 L1042.5,385 L1040,370 L1037.5,355 L1042.5,342.5 L1047.5,332.5 L1047.5,317.5 L1050,305 L1057.5,297.5 L1058.8,282.5 L1065,277.5 L1068.8,270 L1071.2,261.2 L1062.5,262.5 L1050,258.8 L1035,258.8 L1035,253.8 L1032,244 L1029,235.6 L1018,236 L1004,231 L994,228 L986,223 L992,218 L1000,210 L1005.6,201 L1006,195 L1000,197 L994,200 L986,207 L974,212 L961,218 L960.5,209Z" fill="#f7c6be"/>
<path d="M710,231.2 L717.5,233.8 L720,241.2 L727.5,245 L725,253.8 L717.5,262.5 L711.2,272.5 L703.8,277.5 L697.5,285 L690,286.2 L681.2,283.8 L676.2,280 L680,271.2 L685,265 L688.8,257.5 L695,250 L697.5,242.5 L703.8,237.5Z" fill="#f1f1f4"/>
<path d="M822.6,553.6 L827.7,552.3 L835.4,548.4 L838,554.9 L841.9,560 L847,561.9 L852.1,560 L856,556.1 L862.4,558.7 L866.3,565.1 L870.1,571.6 L876.6,575.4 L879.8,581.9 L881.7,589.6 L884.3,597.3 L886.2,605 L884.3,611.4 L879.1,615.3 L871.4,616.6 L860,630 L815,600 L813,575 L816,566 L820,557Z" fill="#f7c6be"/>
<path d="M753.1,504.7 L762.1,495.7 L768.6,493.1 L773.1,495.7 L772.4,498.9 L767.3,504.1 L758.3,505.4 L750.6,507.3 L748,511.1 L745.4,512.4Z" fill="#f7c6be"/>
<path d="M1140,710 L1155,705 L1172.5,706.2 L1181.2,711.2 L1180,720 L1176.2,730 L1178.8,740 L1180,750 L1175,760 L1172.5,770 L1162.5,777.5 L1152.5,785 L1150,795 L1153.8,805 L1150,812.5 L1145,818.8 L1132.5,825 L1100,790 L1112.5,785 L1116.2,772.5 L1115,760 L1118.8,747.5 L1120,737.5 L1126.2,732.5 L1135,727.5 L1140,718.8Z" fill="#f7c6be"/>
<path d="M1293.8,838.8 L1310,840 L1311.2,852.5 L1312.5,863.8 L1322.5,862.5 L1332.5,867.5 L1350,872.5 L1355,925 L1325,925 L1315,910 L1313.8,900 L1315,890 L1305,880 L1297.5,872.5 L1290,865 L1285,860 L1287.5,850Z" fill="#f7c6be"/>
<path d="M1231.2,691.2 L1225,702.5 L1220,712.5 L1215,722.5 L1206.2,727.5 L1202.5,737.5 L1195,746.2 L1197.5,752.5 L1205,756.2 L1215,762.5 L1225,770 L1232.5,775 L1240,768.8 L1247.5,767.5 L1253.8,772.5 L1257.5,780 L1252.5,785 L1245,790 L1243.8,795 L1262.5,792.5 L1287.5,791.2 L1312.5,791.2 L1332.5,793.8 L1353.8,796.2 L1372.5,795 L1372.5,685 L1240,675Z" fill="#f1f1f4"/>
<path d="M1018,542.9 L1024.9,542.3 L1030.6,540.6 L1035.1,537.7 L1039.7,541.1 L1045.4,544 L1052.3,543.4 L1059.1,542.3 L1064.9,546.3 L1070.6,548 L1077.4,545.7 L1085.4,543.4 L1093.4,547.4 L1100.3,550.9 L1107.1,554.3 L1112.9,556.6 L1117.4,558.9 L1120.9,565.7 L1116.3,573.7 L1111.7,581.7 L1106,590.9 L1101.4,600 L1100.9,610.3 L1100.3,614.9 L1095.7,618.3 L1088.9,621.7 L1079.7,622.9 L1076.3,625.1 L1073.4,633.1 L1070.6,625.1 L1068.3,622.9 L1063.7,622.9 L1059.1,626.3 L1054.6,629.7 L1050,635.4 L1047.7,638.9 L1043.1,637.7 L1038.6,635.4 L1034,641.1 L1032.9,650.3 L1029.4,651.4 L1024.9,650.3 L1020.3,651.4 L1014.6,653.7 L1007.7,656.6 L1004.3,652.6 L1002.6,645.7 L1004.3,642.3 L999.7,640 L992.9,638.9 L987.1,636.6 L983.1,637.1 L988.3,633.1 L994,628.6 L999.7,625.1 L1004.3,620.6 L1010,616 L1015.7,611.4 L1021.4,608 L1026,604.6 L1028.9,600 L1027.1,594.3 L1023.7,588.6 L1019.1,584.6 L1013.4,583.4 L1006.6,582.3 L999.7,580.6 L992.9,578.9 L996.3,574.9 L1000.9,568 L1006.6,561.1 L1012.3,556.6 L1018,554.9 L1018,548.6Z" fill="#c7061c"/>
</g>
<path d="M818,386 L814,392 L815,402 L810,410 L809,418 L816,423 L822,426 L832,430 L834,440 L833,448 L828,454 L832,460 L836,464 L826,468 L814,472 L802,478 L798,484 L786,488 L780,489 L774,496 L768,502" fill="none" stroke="#f6aaa5" stroke-width=".8" stroke-linejoin="round"/>
<path d="M818,386 L806,396 L798,402 L794,410 L792,420 L784,426 L772,430" fill="none" stroke="#f6aaa5" stroke-width=".8" stroke-linejoin="round"/>
<path d="M833,448 L844,452 L856,450 L868,448 L878,444 L882,438 L884,428 L888,420 L888,410 L892,400" fill="none" stroke="#f6aaa5" stroke-width=".8" stroke-linejoin="round"/>
<path d="M798,484 L806,488 L810,492 L820,492 L828,488 L840,486 L848,490 L854,496 L860,492 L868,484 L880,480 L890,478 L898,476 L908,474 L916,476 L920,468" fill="none" stroke="#f6aaa5" stroke-width=".8" stroke-linejoin="round"/>
<path d="M898,476 L890,484 L888,492 L880,500 L876,510 L878,518 L884,524 L872,528 L860,530 L852,534 L850,542 L852,550 L848,560 L846,568" fill="none" stroke="#f6aaa5" stroke-width=".8" stroke-linejoin="round"/>
<path d="M916,476 L920,488 L926,496 L932,504 L936,510 L940,520" fill="none" stroke="#f6aaa5" stroke-width=".8" stroke-linejoin="round"/>
<path d="M920,468 L930,470 L940,474 L946,478 L948,484 L956,490 L966,492 L974,494 L978,488 L986,486 L994,488" fill="none" stroke="#f6aaa5" stroke-width=".8" stroke-linejoin="round"/>
<path d="M978,488 L980,500 L986,504 L982,516 L980,524" fill="none" stroke="#f6aaa5" stroke-width=".8" stroke-linejoin="round"/>
<path d="M926,538 L924,546 L928,556 L920,560 L916,568 L912,576" fill="none" stroke="#f6aaa5" stroke-width=".8" stroke-linejoin="round"/>
<path d="M980,552 L982,560 L988,566 L994,572" fill="none" stroke="#f6aaa5" stroke-width=".8" stroke-linejoin="round"/>
<path d="M769,258 L776,260 L784,258 L792,262 L798,264 L804,258 L812,254 L818,250 L824,244 L826,236 L830,228 L832,220 L838,214 L842,206 L848,198 L850,190" fill="none" stroke="#f6aaa5" stroke-width=".8" stroke-linejoin="round"/>
<path d="M818,250 L820,258 L826,262" fill="none" stroke="#f6aaa5" stroke-width=".8" stroke-linejoin="round"/>
<path d="M1138,597 L1130,603 L1122,608 L1118,613 L1108,616 L1100,615" fill="none" stroke="#f6aaa5" stroke-width=".8" stroke-linejoin="round"/>
<path d="M1177,615 L1174,624 L1170,632 L1171,642 L1176,648 L1177,660 L1176,672 L1178,684 L1174,696 L1175,706" fill="none" stroke="#f6aaa5" stroke-width=".8" stroke-linejoin="round"/>
<path d="M1040,724 L1046,730 L1048,720 L1050,710 L1054,704" fill="none" stroke="#f6aaa5" stroke-width=".8" stroke-linejoin="round"/>
<path d="M1104,660 L1110,660 L1112,668 L1106,672 L1100,676 L1098,682 L1090,680 L1088,688" fill="none" stroke="#f6aaa5" stroke-width=".8" stroke-linejoin="round"/>
<path d="M1120,688 L1122,696 L1128,694 L1136,690 L1140,684" fill="none" stroke="#f6aaa5" stroke-width=".8" stroke-linejoin="round"/>
<path d="M1091.4,440 L1094.3,451.4 L1091.4,462.9 L1100,471.4 L1105.7,471.4" fill="none" stroke="#f6aaa5" stroke-width=".8" stroke-linejoin="round"/>
<path d="M1160,442.9 L1177.1,447.1 L1194.3,447.1 L1205.7,437.1 L1217.1,428.6 L1220,414.3 L1225.7,400" fill="none" stroke="#f6aaa5" stroke-width=".8" stroke-linejoin="round"/>
<path d="M1194.3,447.1 L1200,465.7 L1202.9,482.9 L1197.1,500 L1191.4,514.3 L1182.9,525.7 L1171.4,540 L1165.7,545.7 L1154.3,555.7" fill="none" stroke="#f6aaa5" stroke-width=".8" stroke-linejoin="round"/>
<path d="M1197.1,500 L1211.4,494.3 L1220,488.6 L1234.3,494.3 L1242.9,500 L1248.6,488.6 L1242.9,485.7" fill="none" stroke="#f6aaa5" stroke-width=".8" stroke-linejoin="round"/>
<path d="M1245.7,504.3 L1237.1,511.4 L1235.7,525.7 L1232.9,548.6 L1234.3,560" fill="none" stroke="#f6aaa5" stroke-width=".8" stroke-linejoin="round"/>
<path d="M1165.7,545.7 L1182.9,542.9 L1194.3,554.3 L1200,571.4 L1211.4,582.9 L1217.1,577.1" fill="none" stroke="#f6aaa5" stroke-width=".8" stroke-linejoin="round"/>
<path d="M1177.1,614.3 L1171.4,628.6 L1168.6,645.7 L1174.3,657.1 L1171.4,674.3 L1174.3,685.7" fill="none" stroke="#f6aaa5" stroke-width=".8" stroke-linejoin="round"/>
<path d="M1248.6,795.7 L1250,804.3 L1254.3,812.9 L1260,820 L1262.9,828.6 L1271.4,835 L1280,836.4 L1292.9,838.6" fill="none" stroke="#f6aaa5" stroke-width=".8" stroke-linejoin="round"/>
<path d="M1262.9,830 L1255.7,834.3 L1247.1,841.4 L1240,847.1 L1232.9,855.7 L1225.7,860 L1224.3,865.7" fill="none" stroke="#f6aaa5" stroke-width=".8" stroke-linejoin="round"/>
<path d="M680,177 L684,184 L683,194 L678,202 L680,212 L674,218 L666,222 L662,230 L656,236 L650,244 L644,252 L634,258 L624,260 L614,255 L608,252" fill="none" stroke="#fce0db" stroke-width=".8" stroke-linejoin="round"/>
<path d="M666,222 L672,228 L670,238 L678,236 L688,238 L692,244 L696,252 L691,258 L686,260" fill="none" stroke="#fce0db" stroke-width=".8" stroke-linejoin="round"/>
<path d="M727,260 L732,266 L740,270 L748,272" fill="none" stroke="#fce0db" stroke-width=".8" stroke-linejoin="round"/>
<path d="M768,189 L769,200 L768,210 L772,214" fill="none" stroke="#fce0db" stroke-width=".8" stroke-linejoin="round"/>
<path d="M668,300 L674,306 L678,312 L684,316 L688,324" fill="none" stroke="#fce0db" stroke-width=".8" stroke-linejoin="round"/>
<path d="M710,268 L708,278 L700,284 L694,288" fill="none" stroke="#fce0db" stroke-width=".8" stroke-linejoin="round"/>
<path d="M720,326 L728,322 L738,320 L742,316" fill="none" stroke="#fce0db" stroke-width=".8" stroke-linejoin="round"/>
<path d="M1060,90 L1064,100 L1063,112 L1058,124 L1055,136 L1058,146 L1066,152 L1076,156 L1082,162 L1081,168 L1090,172 L1097,180 L1100,192 L1102,204 L1108,214 L1118,220 L1130,223 L1144,224" fill="none" stroke="#fce0db" stroke-width=".8" stroke-linejoin="round"/>
<path d="M1081,164 L1072,168 L1064,166 L1054,164 L1046,166 L1040,172 L1034,176 L1032,182 L1024,188 L1012,190 L1006,194" fill="none" stroke="#fce0db" stroke-width=".8" stroke-linejoin="round"/>
<path d="M710,231.2 L717.5,233.8 L720,241.2 L727.5,245 L725,253.8 L717.5,262.5 L711.2,272.5 L703.8,277.5 L697.5,285 L690,286.2 L681.2,283.8 L676.2,280 L680,271.2 L685,265 L688.8,257.5 L695,250 L697.5,242.5 L703.8,237.5Z" fill="#f1f1f4"/>
<path d="M744,459 L752,460 L759,464 L760,460.5 L761.5,460 L762,463 L760.5,467 L764,468.5 L770,467 L778,470 L777,471.5 L766,470 L763,470 L764.5,474 L765,479 L764,484 L763.5,490 L760,497 L757,490 L757,480 L754,472 L750,466 L746,462Z" fill="#e3dac9"/>
<path d="M771.1,576.7 L775,572.2 L781.4,570.9 L790.4,570.3 L799.4,569 L805.9,569 L809.7,571.6 L814.9,572.9 L818.7,576.7 L817.4,581.9 L816.1,587 L814.9,593.4 L812.3,595.4 L810.4,590.9 L807.1,585.7 L802,583.1 L794.3,581.9 L786.6,579.3 L778.9,578Z" fill="#f7c6be"/>
<path d="M771.1,576.7 L775,572.2 L781.4,570.9 L790.4,570.3 L799.4,569 L805.9,569 L809.7,571.6 L814.9,572.9 L818.7,576.7 L817.4,581.9 L816.1,587 L814.9,593.4 L812.3,595.4 L810.4,590.9 L807.1,585.7 L802,583.1 L794.3,581.9 L786.6,579.3 L778.9,578Z" fill="none" stroke="#9d4745" stroke-width="1"/>
<path d="M545.7,218.7 L545,223.6 L546.4,229.3 L551.4,232.9 L557.9,233.6 L559.3,230.7 L556.4,227.1 L557.9,222.9 L562.9,220.7 L564.3,216.4 L560,213.6 L563.6,207.9 L567.1,210.7 L570,213.6 L574.3,209.3 L580,211.4 L583.6,207.1 L587.9,204.3 L588.6,206.4 L584.3,210.7 L578.6,215 L573.6,217.9 L574.3,222.1 L577.9,226.4 L575.7,230.7 L579.3,236.4 L582.1,240.7 L585,236.4 L588.6,231.4 L587.1,237.9 L586.4,244.3 L590,246.4 L594.3,240.7 L598.6,233.6 L602.9,226.4 L606.4,222.9 L604.3,229.3 L600.7,236.4 L597.1,243.6 L594.3,250.7 L593.6,256.4 L590,257.9 L591.4,263.6 L595.7,266.4 L600.7,264.3 L602.9,269.3 L605.7,276.4 L610,282.1 L611.4,287.9 L610.7,292.1 L615.7,293.6 L621.4,292.1 L627.1,295 L631.4,299.3 L635.7,297.9 L637.1,303.6 L642.9,306.4 L645.7,309.3 L650,307.9 L651.4,303.6 L655.7,300.7 L658.6,297.9 L657.1,302.1 L654.3,306.4 L658.6,307.9 L660.7,307.9 L655.7,309.3 L654.3,313.6 L658.6,316.4 L662.9,319.3 L667.1,322.1 L672.9,326.4 L678.6,330.7 L684.3,332.1 L690,329.3 L690,325 L695,322.5 L691.2,330 L687.5,337.5 L688.8,343.8 L696.2,343.8 L700,338.8 L698.8,335 L705,340 L703.8,345 L700,350 L697.5,355 L705,360 L707,366.2 L710,369.5 L711.5,374 L715,377.5 L720,378 L723,380 L721,384 L721.5,389 L724,393 L727,393 L729,388.5 L732.5,387.5 L732,392 L733,398 L735,404 L737,404 L739,398 L741,396.5 L740,401 L742,404 L748.5,404.8 L744,406 L740,408 L737,411 L734,414 L731.5,416.5 L733,419.5 L735.5,421 L737,425 L738,428 L742,430 L746,432 L752,431 L756,430 L757.5,431.5 L754,433 L750.5,435 L751,437.5 L754,439 L759,438.5 L764,439 L760,440 L754,440.5 L746,439.5 L742.5,440.5 L741,444 L740.5,450 L741,454 L744,460 L746,470 L750,475 L754,479 L755,485 L752,495 L748,505 L748,511.1 L750.6,507.3 L758.3,505.4 L762.1,495.7 L768.6,493.1 L773.1,495.7 L772.4,498.9 L767.3,504.1 L768.6,508.6 L772.4,513.7 L777.6,518.9 L776.9,524 L774.4,529.1 L777.6,534.3 L784,536.9 L778.9,538.1 L771.1,540.1 L775,543.3 L780.1,547.1 L784,551 L789.1,552.3 L791.7,557.4 L796.9,561.3 L803.3,562.6 L809.7,563.2 L814.2,561.9 L816.8,558.7 L820,554.9 L822.6,553.6 L821.3,558.7 L817.4,561.3 L814.9,565.1 L817.4,569 L820,570.3 L822.6,574.1 L825.1,576.7 L830.3,576.7 L836.7,574.1 L843.1,572.9 L850.9,572.9 L848.3,575.4 L843.1,578 L838,579.3 L831.6,580.6 L825.1,581.9 L822.6,584.4 L820,588.3 L818.7,592.1 L825.1,590.9 L830.3,593.4 L832.2,595.4 L827.7,594.1 L822.6,593.4 L818.7,596 L822.6,597.3 L832.9,601.1 L845.7,606.3 L858.6,611.4 L871.4,616.6 L884.3,621.7 L897.1,627.5 L905,632.5 L917.5,642.5 L930,652.5 L937.5,660 L940,666.2 L952.5,672.5 L965,680 L980,687.5 L990,695 L992.5,702.5 L997.5,710 L1005,717.5 L1020,722.5 L1032.5,722.5 L1045,728.8 L1055,737.5 L1062.5,742.5 L1075,753.8 L1082.5,765 L1095,775 L1107.5,785 L1120,795 L1130,805 L1137.5,812.5 L1147.5,820 L1157.5,830 L1170,838.8 L1182.5,847.5 L1195,856.2 L1210,863.8 L1225,871.2 L1240,878.8 L1252.5,886.2 L1265,892.5 L1280,897.5 L1295,901.2 L1310,907.5 L1320,912.5 L1330,916.2 L1342.5,917.5" fill="none" stroke="#9d4745" stroke-width="1" stroke-linejoin="round"/>
<path d="M545.7,218.7 L554,210.5 L560,203 L566,194 L572,182 L576.5,171.5 L582.5,161 L588.5,155 L600,152.5 L615,145 L630,138.8 L650,143.8 L672.5,136.2 L675,130 L687.5,132.5 L691.2,120 L685,100 L675,92.5 L662.5,85 L667.5,77.5 L680,72.5 L690,65 L690,50 L687.5,32.5 L700,30.5 L732.5,32.5 L753.8,33.8 L758.8,37.5 L758.8,48.8 L766.2,51.2 L772.5,45 L780,48.8 L786.2,53.8 L800,57.5 L810,63.8 L822.5,62.5 L832.5,70 L847.5,66.2 L860,60 L875,60 L880,58 L895,60 L912.5,58.8 L925,56.2 L936.2,60 L930,67.5 L928.8,77.5 L923.8,82.5 L926.2,88.8 L937.5,96.2 L947.5,102.5 L957.5,101.2 L962.5,96.2 L970,85 L977.5,80 L987.5,83.8 L997.5,93.8 L1002.5,105 L1008.8,113.8 L1017.5,110 L1025,100 L1030,92.5 L1042.5,85 L1050,81.2 L1060,80 L1070,85 L1082.5,91.2 L1095,96.2 L1110,100 L1115,95 L1118.8,87.5 L1132.5,80 L1145,75 L1152.5,73.8 L1156.2,66.2 L1150,60 L1146.2,53.8 L1155,50 L1167.5,51.2 L1180,56.2 L1187.5,61.2" fill="none" stroke="#7a444c" stroke-width="1" stroke-linejoin="round"/>
<path d="M1266.2,263.8 L1271.2,271.2 L1280,272.5 L1285,280 L1296.2,283.8 L1298.8,293.8 L1295,302.5 L1287.5,308.8 L1280,313.8 L1276.2,322.5 L1280,328.8 L1281.2,340 L1278.8,352.5 L1277.5,362.5 L1280,372.5 L1286.2,380 L1293.8,383.8 L1307.5,380 L1305,390 L1303.8,398.8 L1308.6,400 L1314.3,408.6 L1320,412.9 L1311.4,418.6 L1302.9,425.7 L1298.6,440 L1302.9,448.6 L1314.3,452.9 L1322.9,462.9 L1325.7,477.1 L1330,488.6 L1322.9,485.7 L1314.3,481.4 L1302.9,477.1 L1285.7,478.6 L1274.3,481.4 L1268.6,488.6 L1267.1,500 L1271.4,508.6 L1282.9,512.9 L1294.3,511.4 L1291.4,520 L1297.1,528.6 L1288.6,532.9 L1284.3,540 L1280,548.6 L1284.3,557.1 L1278.6,568.6 L1271.4,575.7 L1257.1,577.1 L1248.6,581.4 L1251.4,594.3 L1255.7,605.7 L1261.4,617.1 L1264.3,628.6 L1262.9,642.9 L1260,657.1 L1251.4,668.6 L1242.9,677.1 L1240,680 L1231.2,691.2 L1242.5,692.5 L1250,697.5 L1252.5,705 L1262.5,706.2 L1270,710 L1282.5,712.5 L1292.5,711.2 L1300,715 L1307.5,721.2 L1311.2,728.8 L1310,735 L1316.2,738.8 L1318.8,745 L1325,750 L1335,752.5 L1342.5,757.5 L1348.8,762.5 L1353.8,760 L1353.8,772.5 L1356.2,782.5 L1358.8,788.8 L1353.8,796.2 L1353.8,810 L1358.8,812.5 L1356.2,820 L1350,825 L1347.5,835 L1341.2,843.8 L1340,852.5 L1341.2,857.5 L1336.2,860 L1335,867.5 L1340,875 L1340,885 L1341.2,900 L1342.5,917.5" fill="none" stroke="#7a444c" stroke-width="1" stroke-linejoin="round"/>
<path d="M731.5,416.5 L735,418 L742,416 L747,417 L752,419 L757,417 L762,414 L766,408 L768,401 L770,397 L773,394 L780,393 L785,390 L789,387 L791,382 L795,380 L798,375 L800,370 L803,365 L805,360 L808,355 L810,350 L816.2,345 L817.5,335 L822.5,330 L837.5,326.2 L850,323.8 L854.3,330 L880,325.7 L881.4,318.6 L917.1,317.9 L950,317.1 L955.7,319.3 L960,328.6 L968.6,335.7 L975.7,344.3 L982.9,355.7 L990,367.1 L995.7,380 L997.1,382.1 L1002.9,383.6 L1010,391.4 L1010.7,398.6 L1010,400 L1005.7,402.9 L1003.6,408.6 L1005,414.3 L1012.9,417.1 L1018.6,418.6 L1019.3,422.9 L1018.6,431.4 L1020,441.4 L1024.3,448.6 L1028.6,454.3 L1030.7,460 L1028.6,464.3 L1022.9,466.4 L1020,470 L1017.1,475.7 L1013.6,480 L1012.9,485.7 L1011.4,491.4 L1007.9,495.7 L1005.7,500 L1007.1,501.4 L1010,497.1 L1017.1,495.7 L1022.9,497.9 L1027.1,495.7 L1031.4,491.4 L1035.7,485.7 L1040,479.3 L1044.3,477.9 L1052.9,477.9" fill="none" stroke="#7a444c" stroke-width="1" stroke-linejoin="round"/>
<path d="M1052.9,477.9 L1060,477.1 L1062.9,475 L1068.6,475.7 L1074.3,480 L1075.7,485 L1082.9,482.9 L1088.6,480 L1095.7,477.9 L1101.4,475.7 L1105.7,470.7 L1108.6,474.3 L1113.6,480 L1117.1,478.6 L1120,482.9 L1118.6,487.1 L1124.3,487.9 L1130,490 L1135,492.9 L1133.6,498.6 L1135,505.7 L1137.9,512.9 L1139.3,518.6 L1140.7,525.7 L1142.9,528.6 L1142.1,537.1 L1144.3,545.7 L1148.6,554.3 L1151.4,560 L1151.4,565.7 L1148.6,577.1 L1144.3,588.6 L1140,595.7 L1154.3,592.9 L1162.9,597.1 L1171.4,605.7 L1177.1,614.3 L1188.6,611.4 L1202.9,605.7 L1210,591.4 L1217.1,577.1 L1220,564.3 L1232.9,564.3 L1242.9,574.3 L1248.6,581.4" fill="none" stroke="#7a444c" stroke-width="1" stroke-linejoin="round"/>
<path d="M1052.9,477.9 L1051.4,485.7 L1047.1,500 L1049.3,507.1 L1045.7,512.9 L1037.1,514.3 L1027.1,517.1 L1022.9,522.9 L1017.9,528.6 L1017.1,542.9 L1018,548.6 L1018,554.9 L1012.3,556.6 L1006.6,561.1 L1000.9,568 L996.3,574.9 L992.9,578.9 L987.5,584 L980,592 L975,600 L975,600 L962.5,607.5 L952.5,612.5 L945,617.5 L939,627.5 L938,637.5 L934,645 L930,652.5" fill="none" stroke="#7a444c" stroke-width="1" stroke-linejoin="round"/>
<g fill="#2e407a" fill-opacity=".74">
<circle cx="757.5" cy="220.5" r="9"/>
<circle cx="652" cy="297.5" r="9"/>
<circle cx="702.5" cy="320.5" r="9"/>
<circle cx="721.5" cy="346" r="9"/>
<circle cx="693" cy="367" r="15"/>
<circle cx="752" cy="376" r="9"/>
<circle cx="771" cy="410" r="9"/>
<circle cx="777" cy="310.5" r="3"/>
<circle cx="841" cy="242.5" r="3"/>
<circle cx="826" cy="204" r="3"/>
<circle cx="933.7" cy="229.7" r="3"/>
<circle cx="1005" cy="178.7" r="3"/>
<circle cx="1124" cy="165" r="3"/>
<circle cx="1094.3" cy="246.3" r="3"/>
<circle cx="1070.6" cy="402" r="3"/>
<circle cx="1176.5" cy="392.5" r="9.5"/>
<circle cx="617.5" cy="181" r="3"/>
<circle cx="855" cy="397.5" r="26"/>
<circle cx="904" cy="418" r="15"/>
<circle cx="784.5" cy="446" r="21"/>
<circle cx="738" cy="481" r="27"/>
<circle cx="823" cy="512" r="9"/>
<circle cx="896.5" cy="532.5" r="9"/>
<circle cx="984" cy="455.5" r="9"/>
<circle cx="954" cy="542" r="27"/>
<circle cx="937.5" cy="535" r="9.5"/>
<circle cx="1020" cy="500" r="27"/>
<circle cx="898" cy="597" r="9"/>
<circle cx="960.5" cy="629" r="9"/>
<circle cx="815" cy="579" r="3"/>
<circle cx="1065" cy="468.5" r="21"/>
<circle cx="1135.5" cy="471.3" r="27"/>
<circle cx="1084.5" cy="541.4" r="26.5"/>
<circle cx="1161" cy="573.4" r="9"/>
<circle cx="1211.4" cy="554" r="9"/>
<circle cx="1225.7" cy="454" r="3"/>
<circle cx="1254" cy="544.5" r="3"/>
<circle cx="1041" cy="606" r="3"/>
<circle cx="1113" cy="638" r="9"/>
<circle cx="1215" cy="654" r="15"/>
<circle cx="1062" cy="677" r="27"/>
<circle cx="1017" cy="698" r="27"/>
<circle cx="997.5" cy="664.5" r="9"/>
<circle cx="1094" cy="723" r="9"/>
<circle cx="1126" cy="798" r="3"/>
<circle cx="1204" cy="814" r="3"/>
<circle cx="1306" cy="819.5" r="3"/>
<circle cx="1307.5" cy="826.7" r="3"/>
<circle cx="1259" cy="861.5" r="9"/>
<circle cx="1323.5" cy="886.5" r="3"/>
</g>
<clipPath id="cp0"><circle cx="1062" cy="677" r="27"/></clipPath>
<circle cx="1017" cy="698" r="27" fill="#2a4a86" fill-opacity=".85" clip-path="url(#cp0)"/>
<circle cx="701.5" cy="357" r="3" fill="#1f3f7a" fill-opacity=".85"/>
<circle cx="752.5" cy="496" r="3" fill="#1f3f7a" fill-opacity=".85"/>
<circle cx="995" cy="707.5" r="3" fill="#1f3f7a" fill-opacity=".85"/>
<circle cx="904" cy="407.5" r="4" fill="#5579b0" fill-opacity=".9"/>
<circle cx="693" cy="367" r="3.3" fill="#000" stroke="#fff" stroke-width="1.7"/>
<circle cx="738" cy="481" r="3.3" fill="#000" stroke="#fff" stroke-width="1.7"/>
<circle cx="1001.7" cy="708" r="3.3" fill="#000" stroke="#fff" stroke-width="1.7"/>
<circle cx="1264.9" cy="148.6" r="116.2" fill="#fff"/>
<circle cx="1264.9" cy="148.6" r="114.7" fill="#aabddb"/>
<g clip-path="url(#cg)">
<path d="M1200.4,54 L1207.8,56.2 L1210.2,59.4 L1205,63.6 L1199.4,70.1 L1193.9,77.6 L1187.4,85 L1182.3,94.3 L1179.9,103.6 L1181.2,112.9 L1183.6,121.2 L1186.4,129.6 L1193.9,137 L1202.2,142.9 L1208.7,141.6 L1214.3,142.6 L1223.6,139.8 L1232.9,137.9 L1240.3,140.7 L1245.8,146.3 L1247.7,153.7 L1251.4,161.1 L1256.1,168.6 L1257.9,177.8 L1256.1,187.1 L1253.3,196.4 L1255.1,205.7 L1258.8,215 L1262.6,224.3 L1268.1,235.4 L1271.8,244.7 L1277.4,246.6 L1286.7,244.7 L1296,241 L1303.4,233.6 L1309,222.4 L1313.6,213.1 L1315.5,205.7 L1322.9,198.3 L1327.6,187.1 L1325.7,177.8 L1323.8,168.6 L1327.6,161.1 L1333.1,153.7 L1340.6,146.3 L1348,137 L1353.6,127.7 L1355.4,123.6 L1344.3,126.2 L1336.8,126.8 L1334.2,122.3 L1341.3,119.4 L1350,115.8 L1358.6,111.6 L1365.6,108 L1371.4,105.1 L1385.1,99.9 L1385.1,16.3 L1140,16.3 L1167.9,42.3Z" fill="#fff"/>
<path d="M1348.9,185.3 L1351.7,190.8 L1350.8,198.3 L1348,207.6 L1344.3,216.8 L1339.6,220.6 L1335,216.8 L1335,207.6 L1337.8,198.3 L1342.4,192.7 L1346.1,187.1Z" fill="#fff"/>
<path d="M1210.5,58.5 L1213,56.8 L1218,55.8 L1221.5,53.8 L1223.5,49.5 L1226,45 L1232,40.8 L1235,37.5 L1241,36.8 L1245,35 L1249.2,34.5 L1250.5,37.5 L1252,39.5 L1254.5,42 L1258,45 L1261.5,47.5 L1264,50 L1263.2,52.5 L1260,53.5 L1256,52.5 L1254.8,54.5 L1258.5,55.2 L1262,56.2 L1264.2,53.5 L1265.5,49.5 L1269,46.5 L1272,48.2 L1275,51.5 L1279,54.5 L1282,56.2 L1283.5,59 L1286,60 L1290,60.2 L1294,58.8 L1298.5,57.7 L1302,56.2 L1306,57.7 L1310.5,58.2 L1315,56.5 L1315,60 L1313.7,65 L1312,70 L1308,72 L1304,71 L1299,72.2 L1294,71 L1288,69.5 L1283,67.5 L1279,68.2 L1276,72 L1272.5,74.5 L1269,72.2 L1264,71 L1262,68 L1256,66.5 L1252,64.5 L1250,63 L1251.2,59 L1250,55 L1244,55 L1238,55.5 L1233,55 L1228,56.5 L1223,58.5 L1218,60.5 L1212,60.5Z" fill="#aabddb"/>
<path d="M1257,34 L1261,33.8 L1265,37 L1270,39.5 L1273,42 L1272.8,46 L1270,45 L1266.5,48.5 L1264.8,46.5 L1265.5,43 L1262.5,40.5 L1259,37Z" fill="#aabddb"/>
<path d="M1282,46 L1285,47.5 L1287,44.5 L1290,45 L1290.5,48.5 L1292.5,51.5 L1294,55 L1294,58.8 L1290,60.2 L1286,60 L1283.5,59 L1283,54 L1284.5,51.5 L1283,48.5Z" fill="#aabddb"/>
<path d="M1295,38 L1298.5,37.8 L1303,39.5 L1305.5,41 L1303,42.5 L1299,42 L1296,40.5Z" fill="#aabddb"/>
<path d="M1307.1,76.6 L1311.4,80.9 L1315.7,86.6 L1320,93.7 L1324.3,100.9 L1328.6,108 L1332.9,113.7 L1334.6,121.6 L1331.4,119.4 L1327.1,113.7 L1322.9,108 L1318.6,99.4 L1314.3,90.9 L1310.7,83.7Z" fill="#aabddb"/>
<path d="M1340,62.3 L1344.3,65.9 L1348.6,70.9 L1352.9,76.6 L1357.1,82.3 L1361.4,88 L1362.9,90.1 L1357.9,91.6 L1355,88 L1352.1,85.1 L1347.1,76.6 L1344.3,69.4Z" fill="#aabddb"/>
<path d="M1245.5,39 L1247.5,38 L1248.8,40 L1248.5,45 L1248,49.5 L1245.2,49.5 L1244.5,46 L1245.2,42.5Z" fill="#fff"/>
<path d="M1306.5,61 L1310,59.5 L1311,60 L1307.5,62.5Z" fill="#fff"/>
<path d="M1286.5,50 L1288,49 L1290,51.5 L1288.5,53.5Z" fill="#fff"/>
<path d="M1285,55.5 L1288,56.2 L1290.5,55.8 L1288,57.2Z" fill="#fff"/>
<path d="M1226.5,48.8 L1228,48.2 L1228.5,49.5 L1227,50Z" fill="#fff"/>
<path d="M1230,47.5 L1232,46.8 L1232.2,48.2 L1230.5,48.6Z" fill="#fff"/>
<path d="M1185.5,125.7 L1187.1,124.3 L1188.2,122.5 L1189.6,121.8 L1192.1,122.1 L1194.6,122.3 L1197.1,123.2 L1199.3,122.9 L1200.4,122.1 L1201.1,123.6 L1202.1,125.7 L1203.2,128.6 L1203.9,131.4 L1203.6,134.3 L1202.9,136.8 L1203.9,138.2 L1204.6,140 L1204.6,142.1 L1204.3,143 L1202.1,142.1 L1200,140.7 L1197.9,139.3 L1195.7,137.9 L1193.6,136.4 L1191.8,135.4 L1190.4,133.9 L1190,132.1 L1188.6,130.4 L1187.1,128.6 L1186.1,127.1Z" fill="#c7061c"/>
</g>
<rect x="1172" y="118" width="35.5" height="27.9" fill="none" stroke="#000" stroke-width="1.8"/>
<text class="cl" transform="translate(804,42) scale(0.5,1)" style="font-size:22.3px;letter-spacing:10.00px">SENEGAL</text>
<text class="cl" transform="translate(1030,57) scale(0.5,1)" style="font-size:22.3px;letter-spacing:12.46px">MALI</text>
<text class="cl" transform="translate(478.5,86) scale(0.5,1)" style="font-size:22.3px;letter-spacing:10.68px">GUINEA-BISSAU</text>
<text class="cl" transform="translate(964,292.5) scale(0.5,1)" style="font-size:22.3px;letter-spacing:13.42px">GUINEA</text>
<text class="cl" transform="translate(1304,584) scale(0.5,1)" style="font-size:22.3px;letter-spacing:10.64px">CÔTE</text>
<text class="cl" transform="translate(1283,610) scale(0.5,1)" style="font-size:22.3px;letter-spacing:10.11px">D'IVOIRE</text>
<text class="wl" transform="translate(856,475) scale(0.5,1)" style="font-size:22.3px;letter-spacing:13.51px">SIERRA</text>
<text class="wl" transform="translate(857,505) scale(0.5,1)" style="font-size:22.3px;letter-spacing:14.26px">LEONE</text>
<text class="wl" transform="translate(1107.5,685.5) scale(0.5,1)" style="font-size:22.3px;letter-spacing:12.94px">LIBERIA</text>
<text class="t" style="font-size:15.5px" x="656" y="395.7" textLength="61.5">Conakry</text>
<text class="t" style="font-size:15.5px" x="700.5" y="523.6" textLength="68.5">Freetown</text>
<text class="t" style="font-size:15.5px" x="918" y="713.6" textLength="70">Monrovia</text>
<path d="M1168,892.5H1258" stroke="#1d1d1b" stroke-width="1.2"/>
<text class="t m" style="font-size:16.5px" x="1213.5" y="912.3" textLength="57.5">100 km</text>
<text class="b" x="722.3" y="776.6" style="font-size:16px" textLength="131.4">Number of cases</text>
<g fill="#2e407a" fill-opacity=".74">
<circle cx="749" cy="811.4" r="27"/>
<circle cx="749" cy="838.6" r="21"/>
<circle cx="749" cy="864.3" r="15"/>
<circle cx="749" cy="891" r="9"/>
<circle cx="749" cy="918" r="3"/>
</g>
<clipPath id="lp0"><circle cx="749" cy="811.4" r="27"/></clipPath>
<circle cx="749" cy="838.6" r="21" fill="#184a80" clip-path="url(#lp0)"/>
<clipPath id="lp1"><circle cx="749" cy="838.6" r="21"/></clipPath>
<circle cx="749" cy="864.3" r="15" fill="#184a80" clip-path="url(#lp1)"/>
<text class="n" x="781.4" y="817">301–600</text>
<text class="n" x="781.4" y="843.7">201–300</text>
<text class="n" x="781.4" y="870.4">101–200</text>
<text class="n" x="781.4" y="897.1">11–100</text>
<text class="n" x="781.4" y="923.8">1–10</text>
<rect x="905.7" y="802.9" width="13.7" height="13.7" fill="#f1f1f4"/>
<text class="t" x="929.4" y="816.1">No cases reported</text>
<rect x="905.7" y="830" width="13.7" height="13.7" fill="#f7c6be"/>
<text class="t" x="929.4" y="843.2">No longer active</text>
<rect x="905.7" y="857.1" width="13.7" height="13.7" fill="#ec8480"/>
<text class="t" x="929.4" y="870.3">Active</text>
<rect x="905.7" y="884.2" width="13.7" height="13.7" fill="#c7061c"/>
<text class="t" x="929.4" y="897.4">New active area</text>
<path d="M33.72,76.6H173L169.98,106.8H30.7Z" fill="#000"/>
<text transform="translate(36.4,101.1) scale(0.58,1)" style="font-size:25.4px;font-weight:bold;font-style:italic;fill:#fff;letter-spacing:3.02px">A RISING TOLL</text>
<path d="M35.7,1008.6H246.7L243.7,1038.6H32.7Z" fill="#000"/>
<text transform="translate(39.6,1032.9) scale(0.58,1)" style="font-size:24.6px;font-weight:bold;font-style:italic;fill:#fff;letter-spacing:3.45px">UNPRECEDENTED SIZE</text>
<text class="t" x="33" y="127.5" textLength="466">The number of Ebola cases continues to rise because control</text>
<text class="t" x="33" y="147.5" textLength="489.5">measures in the outbreak area are insufficient. But it could drop</text>
<text class="t" x="33" y="167.5" textLength="467">quickly if the international community and affected countries</text>
<text class="t" x="33" y="187.5" textLength="339.5">manage to implement an effective response.</text>
<rect x="32.5" y="213.5" width="10" height="10" fill="#c7061c"/>
<text class="t" x="48.7" y="222.5">Liberia</text>
<rect x="128" y="213.5" width="10" height="10" fill="#00386f"/>
<text class="t" x="143" y="222.5">Sierra Leone</text>
<rect x="267.5" y="213.5" width="10" height="10" fill="#fff"/>
<text class="t" x="284" y="222.5">Guinea</text>
<text class="t" x="33.4" y="1058" textLength="768">The current outbreak dwarfs the largest historical outbreaks in Africa, which were rural and relatively</text>
<text class="t" x="33.4" y="1078.4" textLength="730">easy to control. Ebola has now spread to dense urban areas, where control is harder to achieve.</text>
<circle cx="80" cy="1244.3" r="33.88" fill="#fff" stroke="#c7061c" stroke-width=".8"/>
<circle cx="80" cy="1244.3" r="31.79" fill="#c7061c"/>
<circle cx="173" cy="1244.3" r="32.02" fill="#fff" stroke="#c7061c" stroke-width=".8"/>
<circle cx="173" cy="1244.3" r="23.35" fill="#c7061c"/>
<circle cx="246" cy="1244.3" r="13.70" fill="#fff" stroke="#c7061c" stroke-width=".8"/>
<circle cx="246" cy="1244.3" r="10.58" fill="#c7061c"/>
<circle cx="320.7" cy="1244.3" r="33.72" fill="#fff" stroke="#c7061c" stroke-width=".8"/>
<circle cx="320.7" cy="1244.3" r="30.04" fill="#c7061c"/>
<circle cx="396.5" cy="1244.3" r="14.72" fill="#fff" stroke="#c7061c" stroke-width=".8"/>
<circle cx="396.5" cy="1244.3" r="12.75" fill="#c7061c"/>
<circle cx="477.5" cy="1244.3" r="39.17" fill="#fff" stroke="#c7061c" stroke-width=".8"/>
<circle cx="477.5" cy="1244.3" r="28.44" fill="#c7061c"/>
<circle cx="559.2" cy="1244.3" r="15.32" fill="#fff" stroke="#c7061c" stroke-width=".8"/>
<circle cx="559.2" cy="1244.3" r="13.44" fill="#c7061c"/>
<circle cx="616.5" cy="1244.3" r="14.34" fill="#fff" stroke="#c7061c" stroke-width=".8"/>
<circle cx="616.5" cy="1244.3" r="12.46" fill="#c7061c"/>
<circle cx="681.2" cy="1244.3" r="22.72" fill="#fff" stroke="#c7061c" stroke-width=".8"/>
<circle cx="681.2" cy="1244.3" r="21.50" fill="#c7061c"/>
<circle cx="762" cy="1244.3" r="30.87" fill="#fff" stroke="#c7061c" stroke-width=".8"/>
<circle cx="762" cy="1244.3" r="25.98" fill="#c7061c"/>
<circle cx="843.3" cy="1244.3" r="23.19" fill="#fff" stroke="#c7061c" stroke-width=".8"/>
<circle cx="843.3" cy="1244.3" r="11.56" fill="#c7061c"/>
<circle cx="908.3" cy="1244.3" r="14.59" fill="#fff" stroke="#c7061c" stroke-width=".8"/>
<circle cx="908.3" cy="1244.3" r="10.41" fill="#c7061c"/>
<circle cx="1123.2" cy="1244.3" r="174.11" fill="#fff" stroke="#c7061c" stroke-width=".8"/>
<circle cx="1123.2" cy="1244.3" r="120.65" fill="#c7061c"/>
<circle cx="1339.6" cy="1244.3" r="16.12" fill="#fff" stroke="#c7061c" stroke-width=".8"/>
<circle cx="1339.6" cy="1244.3" r="12.60" fill="#c7061c"/>
<text class="m b" style="font-size:16px;letter-spacing:1.25px" x="78" y="1131.8">1976</text>
<text class="m b" style="font-size:16px;letter-spacing:0.1px" x="78" y="1151.8">Zaire</text>
<text class="m" style="font-size:16px;letter-spacing:0.45px" x="78" y="1171.8">318 cases</text>
<text class="m" style="font-size:16px;letter-spacing:0.45px" x="78" y="1191.8">280 deaths</text>
<path d="M80,1200V1210" stroke="#555" stroke-width=".9"/>
<text class="m b" style="font-size:16px;letter-spacing:1.25px" x="173.4" y="1131.8">1976</text>
<text class="m b" style="font-size:16px;letter-spacing:0.1px" x="173.4" y="1151.8">Sudan</text>
<text class="m" style="font-size:16px;letter-spacing:0.45px" x="173.4" y="1171.8">284 cases</text>
<text class="m" style="font-size:16px;letter-spacing:0.45px" x="173.4" y="1191.8">151 deaths</text>
<path d="M173,1200V1211.7" stroke="#555" stroke-width=".9"/>
<text class="m" style="font-size:16px;letter-spacing:0.9px" x="246" y="1293">1994</text>
<text class="m" style="font-size:16px;letter-spacing:0.45px" x="246" y="1313">Gabon</text>
<path d="M246,1258.5V1273.7" stroke="#555" stroke-width=".9"/>
<text class="m b" style="font-size:16px;letter-spacing:1.25px" x="320" y="1131.8">1995</text>
<text class="m b" style="font-size:16px;letter-spacing:0.1px" x="320" y="1151.8">Zaire</text>
<text class="m" style="font-size:16px;letter-spacing:0.45px" x="320" y="1171.8">315 cases</text>
<text class="m" style="font-size:16px;letter-spacing:0.45px" x="320" y="1191.8">250 deaths</text>
<path d="M320.7,1200V1210" stroke="#555" stroke-width=".9"/>
<text class="m" style="font-size:16px;letter-spacing:0.9px" x="397.5" y="1293">1996</text>
<text class="m" style="font-size:16px;letter-spacing:0.45px" x="397.5" y="1313">Gabon</text>
<path d="M396.5,1259.5V1273.7" stroke="#555" stroke-width=".9"/>
<text class="m b" style="font-size:16px;letter-spacing:1.25px" x="477" y="1131.8">2000</text>
<text class="m b" style="font-size:16px;letter-spacing:0.1px" x="477" y="1151.8">Uganda</text>
<text class="m" style="font-size:16px;letter-spacing:0.45px" x="477" y="1171.8">425 cases</text>
<text class="m" style="font-size:16px;letter-spacing:0.45px" x="477" y="1191.8">224 deaths</text>
<path d="M477.5,1199.5V1205" stroke="#555" stroke-width=".9"/>
<text class="m" style="font-size:16px;letter-spacing:0.9px" x="559.5" y="1293">2001</text>
<text class="m" style="font-size:16px;letter-spacing:0.45px" x="559.5" y="1313">Gabon</text>
<path d="M559.2,1260V1273.7" stroke="#555" stroke-width=".9"/>
<text class="m" style="font-size:16px;letter-spacing:0.9px" x="616.5" y="1151.8">2001</text>
<text class="m" style="font-size:16px;letter-spacing:0.45px" x="616.5" y="1171.8">Republic</text>
<text class="m" style="font-size:16px;letter-spacing:0.45px" x="616.5" y="1191.8">of Congo</text>
<path d="M616.5,1199.5V1229.5" stroke="#555" stroke-width=".9"/>
<text class="m" style="font-size:16px;letter-spacing:0.9px" x="681.5" y="1293">2003</text>
<text class="m" style="font-size:16px;letter-spacing:0.45px" x="681.5" y="1313">Republic</text>
<text class="m" style="font-size:16px;letter-spacing:0.45px" x="681.5" y="1333">of Congo</text>
<path d="M681.2,1267.5V1273.7" stroke="#555" stroke-width=".9"/>
<text class="m b" style="font-size:16px;letter-spacing:1.25px" x="762.5" y="1131.8">2007</text>
<text class="m b" style="font-size:16px;letter-spacing:0.1px" x="762.5" y="1151.8">DRC*</text>
<text class="m" style="font-size:16px;letter-spacing:0.45px" x="762.5" y="1171.8">264 cases</text>
<text class="m" style="font-size:16px;letter-spacing:0.45px" x="762.5" y="1191.8">187 deaths</text>
<path d="M761.3,1200V1212.5" stroke="#555" stroke-width=".9"/>
<text class="m" style="font-size:16px;letter-spacing:0.9px" x="843.3" y="1293">2007</text>
<text class="m" style="font-size:16px;letter-spacing:0.45px" x="843.3" y="1313">Uganda</text>
<path d="M843.3,1267.5V1273.7" stroke="#555" stroke-width=".9"/>
<text class="m" style="font-size:16px;letter-spacing:0.9px" x="908.3" y="1171.8">2012</text>
<text class="m" style="font-size:16px;letter-spacing:0.45px" x="908.3" y="1191.8">DRC</text>
<path d="M908.3,1200V1230" stroke="#555" stroke-width=".9"/>
<text class="m" style="font-size:16px;letter-spacing:0.9px" x="1339.6" y="1172">2014</text>
<text class="m" style="font-size:16px;letter-spacing:0.45px" x="1339.6" y="1192">DRC</text>
<path d="M1339.6,1200V1228" stroke="#555" stroke-width=".9"/>
<text class="m b" style="font-size:16px;letter-spacing:1.25px" x="1121" y="1024">2014</text>
<text class="m b" style="font-size:16px;letter-spacing:0.1px" x="1121" y="1044">Guinea, Liberia, Nigeria,</text>
<text class="m b" style="font-size:16px;letter-spacing:0.1px" x="1121" y="1064">Senegal and Sierra Leone</text>
<text class="m" style="font-size:16px;letter-spacing:0.45px" x="1121.5" y="1094.7">8,397 cases</text>
<text class="m" style="font-size:16px;letter-spacing:0.45px" x="1121.5" y="1114.7">4,032 deaths</text>
<circle cx="40.7" cy="1342.5" r="7" fill="#fff" stroke="#c7061c" stroke-width=".9"/>
<text class="t" x="53" y="1348.2" textLength="130.7">Number of cases</text>
<circle cx="217.5" cy="1342.5" r="7.5" fill="#c7061c"/>
<text class="t" x="232" y="1348.2" textLength="140">Number of deaths</text>
<text x="33.7" y="1375" style="font-size:10.8px;letter-spacing:.45px" textLength="168">*Democratic Republic of Congo</text>
</svg></body></html>
